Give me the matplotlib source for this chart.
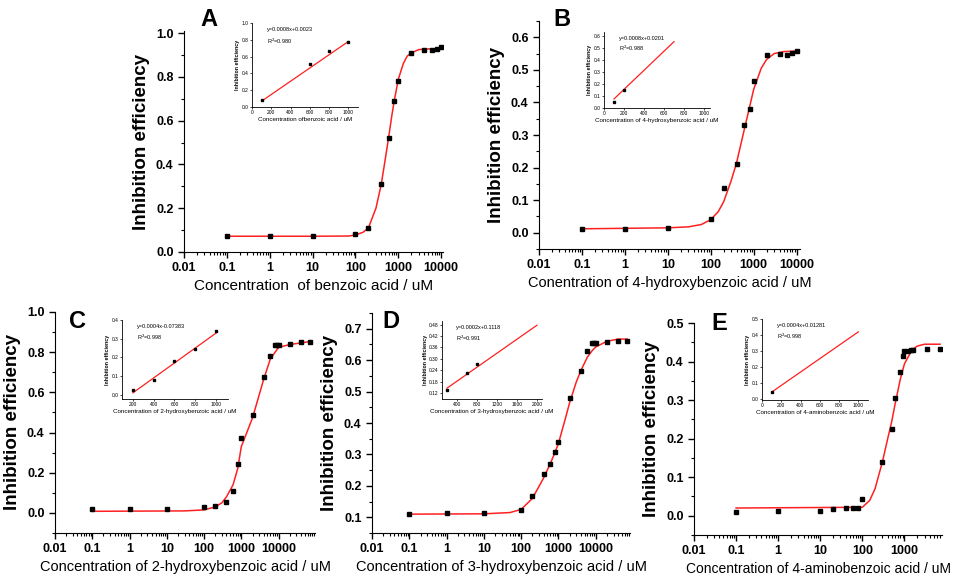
import numpy as np
import matplotlib.pyplot as plt
from matplotlib.ticker import LogLocator, NullFormatter, MultipleLocator

plt.rcParams['font.family'] = ['Liberation Sans', 'DejaVu Sans']

# ---- panel A: benzoic acid
a_x = [0.1, 1, 10, 100, 200, 400, 600, 800, 1000, 2000, 4000, 6000, 8000, 10000]
a_y = [0.074, 0.074, 0.074, 0.083, 0.109, 0.313, 0.523, 0.689, 0.78, 0.909, 0.924, 0.924, 0.929, 0.935]
a_fit_x = [0.1, 10, 70, 100, 150, 200, 300, 400, 500, 600, 700, 800, 1000, 1300, 1600, 2000, 3000, 5000, 10000]
a_fit_y = [0.072, 0.072, 0.073, 0.078, 0.09, 0.11, 0.2, 0.31, 0.43, 0.53, 0.62, 0.69, 0.79, 0.86, 0.895, 0.91, 0.925, 0.928, 0.93]
a_in_x = [100, 600, 800, 1000]
a_in_y = [0.078, 0.51, 0.67, 0.77]
a_in_fit_x = [100, 1000]
a_in_fit_y = [0.07, 0.78]

# ---- panel B: 4-hydroxybenzoic acid
b_x = [0.1, 1, 10, 100, 200, 400, 600, 800, 1000, 2000, 4000, 6000, 8000, 10000]
b_y = [0.010, 0.012, 0.016, 0.043, 0.137, 0.211, 0.330, 0.379, 0.465, 0.547, 0.549, 0.547, 0.551, 0.557]
b_fit_x = [0.1, 10, 30, 60, 100, 150, 200, 300, 400, 500, 600, 800, 1000, 1500, 2000, 3000, 5000, 10000]
b_fit_y = [0.012, 0.015, 0.018, 0.025, 0.04, 0.065, 0.095, 0.16, 0.215, 0.27, 0.315, 0.385, 0.44, 0.505, 0.532, 0.55, 0.556, 0.558]
b_in_x = [100, 200]
b_in_y = [0.047, 0.149]
b_in_fit_x = [100, 700]
b_in_fit_y = [0.075, 0.55]

# ---- panel C: 2-hydroxybenzoic acid
c_x = [0.1, 1, 10, 100, 200, 400, 600, 800, 1000, 2000, 4000, 6000, 8000, 9000, 10000, 20000, 40000, 70000]
c_y = [0.017, 0.017, 0.020, 0.030, 0.035, 0.052, 0.109, 0.244, 0.373, 0.488, 0.674, 0.779, 0.836, 0.836, 0.836, 0.841, 0.849, 0.849]
c_fit_x = [0.1, 30, 100, 200, 300, 400, 600, 800, 1000, 2000, 4000, 6000, 10000, 20000, 70000]
c_fit_y = [0.008, 0.01, 0.015, 0.03, 0.05, 0.08, 0.14, 0.22, 0.33, 0.473, 0.666, 0.766, 0.824, 0.838, 0.853]
c_in_x = [200, 400, 600, 800, 1000]
c_in_y = [0.023, 0.08, 0.178, 0.245, 0.343]
c_in_fit_x = [200, 1000]
c_in_fit_y = [0.01, 0.33]

# ---- panel D: 3-hydroxybenzoic acid
d_x = [0.1, 1, 10, 100, 200, 400, 600, 800, 1000, 2000, 4000, 6000, 8000, 9000, 10000, 20000, 40000, 70000]
d_y = [0.111, 0.114, 0.114, 0.122, 0.167, 0.237, 0.269, 0.308, 0.341, 0.478, 0.567, 0.629, 0.653, 0.655, 0.655, 0.658, 0.661, 0.661]
d_fit_x = [0.1, 10, 50, 100, 200, 400, 600, 800, 1000, 1500, 2000, 3000, 4000, 6000, 8000, 10000, 20000, 40000, 70000]
d_fit_y = [0.11, 0.111, 0.115, 0.125, 0.16, 0.225, 0.27, 0.305, 0.335, 0.41, 0.465, 0.53, 0.567, 0.61, 0.63, 0.642, 0.66, 0.667, 0.667]
d_in_x = [200, 600, 800]
d_in_y = [0.134, 0.228, 0.273]
d_in_fit_x = [200, 2000]
d_in_fit_y = [0.146, 0.477]

# ---- panel E: 4-aminobenzoic acid
e_x = [0.1, 1, 10, 20, 40, 60, 80, 100, 300, 500, 600, 800, 900, 1000, 1200, 1400, 1600, 3500, 7000]
e_y = [0.010, 0.013, 0.013, 0.0165, 0.020, 0.020, 0.020, 0.044, 0.139, 0.226, 0.306, 0.374, 0.414, 0.427, 0.427, 0.429, 0.430, 0.433, 0.433]
e_fit_x = [0.1, 100, 150, 200, 300, 400, 500, 600, 800, 1000, 1500, 2000, 3000, 7000]
e_fit_y = [0.02, 0.022, 0.04, 0.07, 0.14, 0.2, 0.245, 0.29, 0.355, 0.394, 0.43, 0.44, 0.445, 0.445]
e_in_x = [100]
e_in_y = [0.045]
e_in_fit_x = [100, 1000]
e_in_fit_y = [0.045, 0.42]

dec_ticks = [0.01, 0.1, 1, 10, 100, 1000, 10000]
dec_labels = ['0.01', '0.1', '1', '10', '100', '1000', '10000']

fig = plt.figure(figsize=(9.57, 5.76), dpi=100)


def px(l, t, r, b):
    # pixel box -> figure fraction
    return [l / 957, 1 - b / 576, (r - l) / 957, (b - t) / 576]


def panel(box, x, y, fx, fy, xlim, ylim, yticks, xlabel, letter, letter_pos, nticks=7, xl_size=11):
    ax = fig.add_axes(px(*box))
    ax.plot(fx, fy, color='#ff2020', lw=1.1, zorder=2)
    ax.plot(x, y, 's', color='black', ms=3.2, zorder=3)
    ax.set_xscale('log')
    ax.set_xlim(*xlim)
    ax.set_ylim(*ylim)
    ax.set_xticks(dec_ticks[:nticks])
    ax.set_xticklabels(dec_labels[:nticks])
    ax.xaxis.set_minor_locator(LogLocator(base=10, subs=np.arange(2, 10), numticks=20))
    ax.xaxis.set_minor_formatter(NullFormatter())
    ax.set_yticks(yticks)
    ax.set_yticklabels(['%.1f' % v for v in yticks])
    ax.yaxis.set_minor_locator(MultipleLocator(0.05 if yticks[1] - yticks[0] < 0.15 else 0.1))
    for s in ['top', 'right']:
        ax.spines[s].set_visible(False)
    ax.tick_params(which='major', direction='out', length=4, width=1, labelsize=9)
    ax.tick_params(which='minor', direction='out', length=2, width=0.8)
    for lab in ax.get_xticklabels() + ax.get_yticklabels():
        lab.set_fontweight('bold')
    ax.set_xlabel(xlabel, fontsize=xl_size, labelpad=3)
    ax.set_ylabel('Inhibition efficiency', fontsize=13.5, fontweight='bold', labelpad=4)
    fig.text(letter_pos[0] / 957, 1 - letter_pos[1] / 576, letter, fontsize=17,
             fontweight='bold', ha='left', va='top')
    return ax


def inset(box, x, y, fx, fy, xlim, ylim, xticks, yticks, yfmt, xlabel, eq, r2):
    ax = fig.add_axes(px(*box))
    ax.plot(fx, fy, color='#ff2020', lw=0.9)
    ax.plot(x, y, 's', color='black', ms=1.5)
    ax.set_xlim(*xlim)
    ax.set_ylim(*ylim)
    ax.set_xticks(xticks)
    ax.set_yticks(yticks)
    ax.set_yticklabels([yfmt % v for v in yticks])
    for s in ['top', 'right']:
        ax.spines[s].set_visible(False)
    for s in ['left', 'bottom']:
        ax.spines[s].set_linewidth(0.6)
    ax.tick_params(direction='out', length=1.5, width=0.5, labelsize=3.5, pad=1)
    ax.set_xlabel(xlabel, fontsize=4.5, labelpad=1)
    ax.set_ylabel('Inhibition efficiency', fontsize=3.8, fontweight='bold', labelpad=1)
    ax.text(0.14, 0.95, eq, transform=ax.transAxes, fontsize=4, va='top')
    ax.text(0.14, 0.84, r2, transform=ax.transAxes, fontsize=4, va='top')
    return ax


panel((184, 31, 443, 252), a_x, a_y, a_fit_x, a_fit_y, (0.01, 11000), (0, 1.01),
      [0.0, 0.2, 0.4, 0.6, 0.8, 1.0], 'Concentration  of benzoic acid / uM', 'A', (200, 8))
inset((252, 23, 358, 107), a_in_x, a_in_y, a_in_fit_x, a_in_fit_y, (0, 1100), (0, 1.0),
      [0, 200, 400, 600, 800, 1000], [0.0, 0.2, 0.4, 0.6, 0.8, 1.0], '%.1f',
      'Concentration ofbenzoic acid / uM', 'y=0.0008x+0.0023', 'R$^2$=0.980')

panel((539, 21, 800, 249), b_x, b_y, b_fit_x, b_fit_y, (0.01, 12000), (-0.05, 0.65),
      [0.0, 0.1, 0.2, 0.3, 0.4, 0.5, 0.6], 'Conentration of 4-hydroxybenzoic acid / uM', 'B', (553, 8),
      xl_size=10.5)
inset((604, 32, 710, 108), b_in_x, b_in_y, b_in_fit_x, b_in_fit_y, (0, 1060), (0, 0.63),
      [0, 200, 400, 600, 800, 1000], [0.0, 0.1, 0.2, 0.3, 0.4, 0.5, 0.6], '%.1f',
      'Concentration of 4-hydroxybenzoic acid / uM', 'y=0.0008x+0.0201', 'R$^2$=0.988')

panel((55, 312, 315, 533), c_x, c_y, c_fit_x, c_fit_y, (0.01, 95000), (-0.1, 1.0),
      [0.0, 0.2, 0.4, 0.6, 0.8, 1.0], 'Concentration of 2-hydroxybenzoic acid / uM', 'C', (69, 310),
      xl_size=10.5)
inset((122, 320, 228, 399), c_in_x, c_in_y, c_in_fit_x, c_in_fit_y, (95, 1115), (-0.023, 0.4),
      [200, 400, 600, 800, 1000], [0.0, 0.1, 0.2, 0.3, 0.4], '%.1f',
      'Concentration of 2-hydroxybenzoic acid / uM', 'y=0.0004x-0.07383', 'R$^2$=0.998')

panel((372, 313, 630, 533), d_x, d_y, d_fit_x, d_fit_y, (0.01, 83000), (0.05, 0.75),
      [0.1, 0.2, 0.3, 0.4, 0.5, 0.6, 0.7], 'Concentration of 3-hydroxybenzoic acid / uM', 'D', (382, 310),
      xl_size=10.5)
inset((442, 321, 542, 399), d_in_x, d_in_y, d_in_fit_x, d_in_fit_y, (100, 2100), (0.089, 0.499),
      [400, 800, 1200, 1600, 2000], [0.12, 0.18, 0.24, 0.30, 0.36, 0.42, 0.48], '%.2f',
      'Concentration of 3-hydroxybenzoic acid / uM', 'y=0.0002x+0.1118', 'R$^2$=0.991')

panel((694, 323, 942, 535), e_x, e_y, e_fit_x, e_fit_y, (0.01, 7800), (-0.05, 0.5),
      [0.0, 0.1, 0.2, 0.3, 0.4, 0.5], 'Concentration of 4-aminobenzoic acid / uM', 'E', (711, 312),
      nticks=6, xl_size=10)
inset((762, 319, 868, 400), e_in_x, e_in_y, e_in_fit_x, e_in_fit_y, (0, 1100), (-0.004, 0.5),
      [0, 200, 400, 600, 800, 1000], [0.0, 0.1, 0.2, 0.3, 0.4, 0.5], '%.1f',
      'Concentration of 4-aminobenzoic acid / uM', 'y=0.0004x+0.01281', 'R$^2$=0.998')

fig.savefig('out.png', dpi=100)
